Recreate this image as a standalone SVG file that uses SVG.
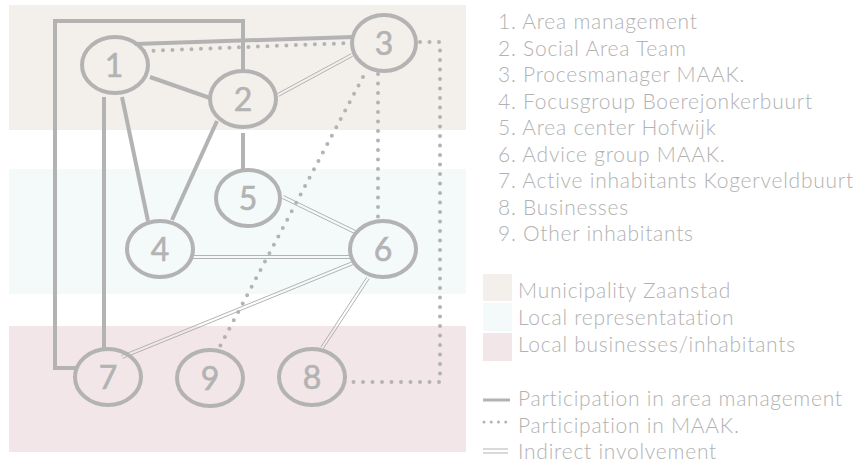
<svg xmlns="http://www.w3.org/2000/svg" width="866" height="462" viewBox="0 0 866 462">
<style>
.node ellipse{fill:none;stroke:#b3b3b3;stroke-width:4}
.node text{font-family:Lato,"Liberation Sans",sans-serif;font-size:32px;fill:#b3b3b3;stroke:#b3b3b3;stroke-width:0.6;text-anchor:middle}
.solid{fill:none;stroke:#b3b3b3;stroke-width:4}
.dot{fill:none;stroke:#b3b3b3;stroke-width:4;stroke-linecap:round;stroke-dasharray:0 9.5}
.dbl{fill:none;stroke:#b3b3b3;stroke-width:1}
.leg{font-family:Lato,"Liberation Sans",sans-serif;font-size:21px;font-weight:300;letter-spacing:0.75px;fill:#b2b2b2}
</style>
<g id="bands">
<rect x="9" y="5" width="457" height="125" fill="#f3f0eb"/>
<rect x="9" y="169" width="457" height="125" fill="#f4fafa"/>
<rect x="9" y="326" width="457" height="126" fill="#f2e6e9"/>
</g>
<g id="connectors">
<polyline class="solid" points="243,71 243,21 55,21 55,368 76,368"/>
<line class="solid" x1="135" y1="44" x2="353" y2="37"/>
<line class="solid" x1="150" y1="77" x2="210" y2="98"/>
<line class="solid" x1="104" y1="97" x2="104" y2="349"/>
<line class="solid" x1="122" y1="97" x2="148" y2="221"/>
<line class="solid" x1="217" y1="121" x2="172" y2="220"/>
<line class="solid" x1="243" y1="133" x2="243" y2="169"/>
<line class="dot" x1="144" y1="51" x2="350" y2="43"/>
<polyline class="dot" points="420,42 440,42 440,382 353,382"/>
<line class="dot" x1="378" y1="74" x2="378" y2="221"/>
<line class="dot" x1="363" y1="77" x2="218" y2="350"/>
<g class="dbl">
<line x1="277.3" y1="93.7" x2="351.3" y2="53.7"/>
<line x1="278.7" y1="96.3" x2="352.7" y2="56.3"/>
<line x1="283.7" y1="195.6" x2="355.7" y2="230.6"/>
<line x1="282.3" y1="198.4" x2="354.3" y2="233.4"/>
<line x1="193" y1="255.5" x2="350" y2="255.5"/>
<line x1="193" y1="258.5" x2="350" y2="258.5"/>
<line x1="121.4" y1="355.6" x2="352.4" y2="261.6"/>
<line x1="122.6" y1="358.4" x2="353.6" y2="264.4"/>
<line x1="320.8" y1="347.2" x2="366.8" y2="277.2"/>
<line x1="323.2" y1="348.8" x2="369.2" y2="278.8"/>
</g>
</g>
<g id="node1" class="node"><ellipse cx="115" cy="65" rx="33" ry="28"/><text x="114" y="77">1</text></g>
<g id="node2" class="node"><ellipse cx="243" cy="99" rx="33" ry="28"/><text x="243" y="111">2</text></g>
<g id="node3" class="node"><ellipse cx="384" cy="43" rx="32" ry="28"/><text x="384" y="55">3</text></g>
<g id="node4" class="node"><ellipse cx="160" cy="249" rx="33" ry="28"/><text x="160" y="261">4</text></g>
<g id="node5" class="node"><ellipse cx="248" cy="198" rx="32" ry="28"/><text x="248" y="210">5</text></g>
<g id="node6" class="node"><ellipse cx="383" cy="249" rx="33" ry="28"/><text x="383" y="261">6</text></g>
<g id="node7" class="node"><ellipse cx="108" cy="377" rx="33" ry="28"/><text x="108" y="389">7</text></g>
<g id="node9" class="node"><ellipse cx="210" cy="378" rx="33" ry="28"/><text x="210" y="390">9</text></g>
<g id="node8" class="node"><ellipse cx="312" cy="377" rx="33" ry="28"/><text x="312" y="389">8</text></g>
<g id="legend">
<text class="leg" x="498" y="29">1. Area management</text>
<text class="leg" x="498" y="55.5">2. Social Area Team</text>
<text class="leg" x="498" y="82">3. Procesmanager MAAK.</text>
<text class="leg" x="498" y="108.5">4. Focusgroup Boerejonkerbuurt</text>
<text class="leg" x="498" y="135">5. Area center Hofwijk</text>
<text class="leg" x="498" y="161.5">6. Advice group MAAK.</text>
<text class="leg" x="498" y="188">7. Active inhabitants Kogerveldbuurt</text>
<text class="leg" x="498" y="214.5">8. Businesses</text>
<text class="leg" x="498" y="241">9. Other inhabitants</text>
<rect x="483" y="274" width="29" height="27" fill="#f3f0eb"/>
<rect x="483" y="303" width="29" height="28" fill="#f4fafa"/>
<rect x="483" y="333" width="29" height="28" fill="#f2e6e9"/>
<text class="leg" x="518" y="298">Municipality Zaanstad</text>
<text class="leg" x="518" y="325">Local representatation</text>
<text class="leg" x="518" y="352">Local businesses/inhabitants</text>
<line x1="483" y1="400" x2="510" y2="400" stroke="#b3b3b3" stroke-width="3"/>
<line x1="484" y1="422" x2="513" y2="422" stroke="#b3b3b3" stroke-width="3" stroke-linecap="round" stroke-dasharray="0 7.25"/>
<line x1="483" y1="449" x2="508" y2="449" stroke="#b3b3b3" stroke-width="1"/>
<line x1="483" y1="453" x2="508" y2="453" stroke="#b3b3b3" stroke-width="1"/>
<text class="leg" x="518" y="406">Participation in area management</text>
<text class="leg" x="518" y="433">Participation in MAAK.</text>
<text class="leg" x="518" y="459">Indirect involvement</text>
</g>
</svg>
